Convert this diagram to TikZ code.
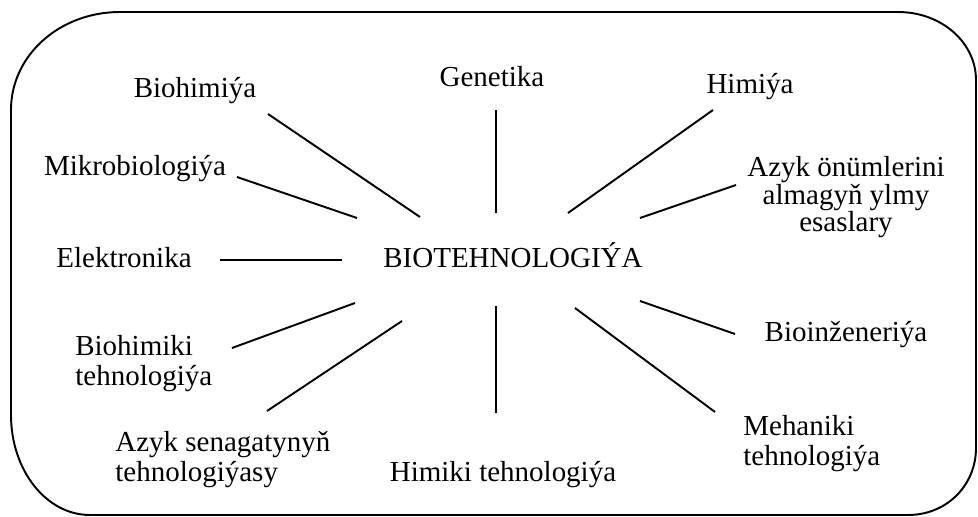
\documentclass[tikz,border=0pt]{standalone}
\usepackage{fontspec}
\setmainfont{Liberation Serif}

\begin{document}
\begin{tikzpicture}[x=0.02cm, y=-0.02cm,
        lbl/.style={inner sep=0pt, font=\fontsize{16.5}{17}\selectfont},
        spoke/.style={line width=1.1pt}]
        \useasboundingbox (0,0) rectangle (978,517);

        % Outer frame, corners of different size
        \draw[line width=1.1pt] (11,110) -- (11,415)
            .. controls (11,470) and (46,515) .. (90,515) -- (908,515)
            .. controls (947,515) and (976,485) .. (976,448) -- (976,80)
            .. controls (976,43) and (942,12) .. (898,12) -- (120,12)
            .. controls (60,12) and (11,55) .. (11,110) -- cycle;

        % Centre
        \node[lbl, anchor=base] (bio) at (513,268) {BIOTEHNOLOGIÝA};

        % Upper labels
        \node[lbl, anchor=base] (biohim) at (195,98) {Biohimiýa};
        \node[lbl, anchor=base] (gen) at (492,87) {Genetika};
        \node[lbl, anchor=base] (him) at (750,94) {Himiýa};
        \node[lbl, anchor=base] (mikro) at (135,175) {Mikrobiologiýa};
        % (base of a multi-line node is its last line)
        \node[lbl, anchor=base, align=center, font=\fontsize{16.5}{15.7}\selectfont] (azyk) at (846,232) {Azyk önümlerini\\almagyň ylmy\\esaslary};

        % Middle and lower labels
        \node[lbl, anchor=base] (elek) at (124,268) {Elektronika};
        \node[lbl, anchor=base west, align=left] (biohimtech) at (75,385) {Biohimiki\\tehnologiýa};
        \node[lbl, anchor=base west, align=left] (senagat) at (115,481) {Azyk senagatynyň\\tehnologiýasy};
        \node[lbl, anchor=base] (himtech) at (503,481) {Himiki tehnologiýa};
        \node[lbl, anchor=base] (bioinz) at (846,341) {Bioinženeriýa};
        \node[lbl, anchor=base west, align=left] (meh) at (743,465) {Mehaniki\\tehnologiýa};

        % Spoke ends
        \coordinate (biohim-o) at (268,114);  \coordinate (biohim-i) at (420,217);
        \coordinate (mikro-o) at (237,177);   \coordinate (mikro-i) at (357,218);
        \coordinate (gen-o) at (496,110);     \coordinate (gen-i) at (496,213);
        \coordinate (him-o) at (713,110);     \coordinate (him-i) at (568,213);
        \coordinate (azyk-o) at (736,185);    \coordinate (azyk-i) at (640,218);
        \coordinate (elek-o) at (220,260);    \coordinate (elek-i) at (342,260);
        \coordinate (biohimtech-o) at (232,348); \coordinate (biohimtech-i) at (355,303);
        \coordinate (senagat-o) at (267,411); \coordinate (senagat-i) at (402,321);
        \coordinate (himtech-o) at (496,413); \coordinate (himtech-i) at (496,306);
        \coordinate (bioinz-o) at (735,334);  \coordinate (bioinz-i) at (640,301);
        \coordinate (meh-o) at (715,412);     \coordinate (meh-i) at (575,308);

        % Spokes
        \foreach \n in {biohim,mikro,gen,him,azyk,elek,biohimtech,senagat,himtech,bioinz,meh}
            \draw[spoke] (\n-o) -- (\n-i);
    \end{tikzpicture}
\end{document}
